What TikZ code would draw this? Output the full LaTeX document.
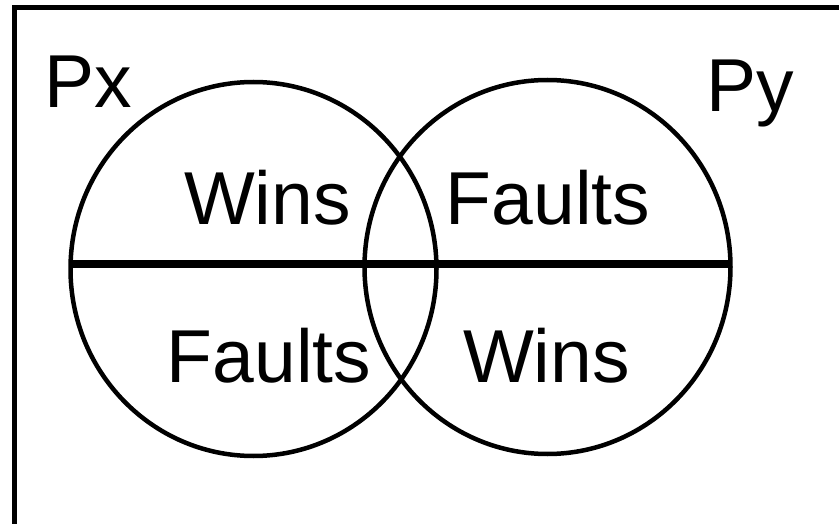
\documentclass[tikz,border=0pt]{standalone}
\usepackage{fontspec}
\setmainfont{Liberation Sans}
\usetikzlibrary{shapes.geometric}

\begin{document}
\begin{tikzpicture}[x=1pt,y=-1pt,
  setshape/.style={ellipse,draw,line width=4.5pt,minimum width=366pt,minimum height=374pt,inner sep=0pt,outer sep=0pt},
  lbl/.style={anchor=base,inner sep=0pt,font=\fontsize{75}{90}\selectfont}]
  \useasboundingbox (0,0) rectangle (839,524);
  \draw[line width=4.5pt] (14.5,7.5) rectangle (850,526);
  % the two sets
  \node[setshape] (setx) at (253.5,269) {};
  \node[setshape] (sety) at (547.5,267) {};
  \path (setx.west) ++(0,-5) coordinate (barl);
  \path (sety.east) ++(0,-3) coordinate (barr);
  \draw[line width=8pt] (barl) -- (barr);
  % labels
  \node[lbl] (px) at (88,108) {Px};
  \node[lbl] (py) at (750,112) {Py};
  \node[lbl] (winsx) at (267.5,224.5) {Wins};
  \node[lbl] (faultsy) at (548,224.5) {Faults};
  \node[lbl] (faultsx) at (269,382) {Faults};
  \node[lbl] (winsy) at (546.5,382) {Wins};
\end{tikzpicture}
\end{document}
